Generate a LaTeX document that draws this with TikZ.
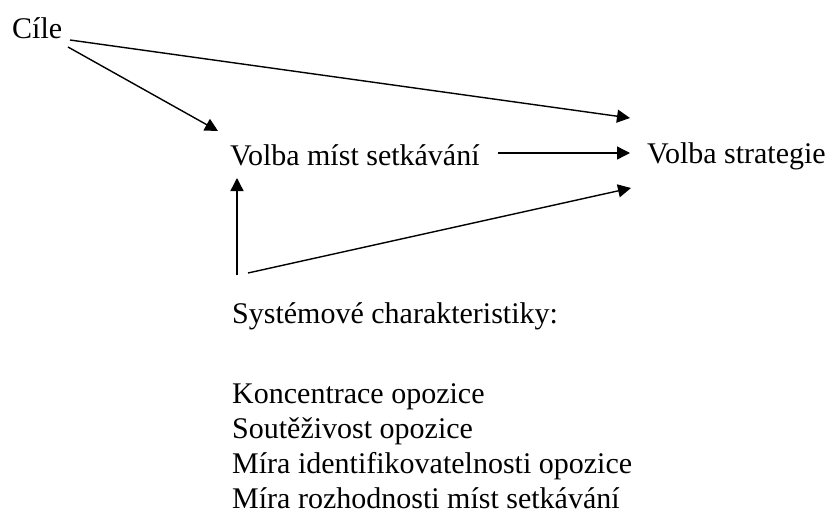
\documentclass[tikz,border=0pt]{standalone}
\usepackage{fontspec}
\setmainfont{Liberation Serif}
\usetikzlibrary{arrows.meta}
\begin{document}
\begin{tikzpicture}[x=1pt,y=-1pt,
  lbl/.style={anchor=base west,inner sep=0pt,font=\fontsize{30}{35}\selectfont},
  arr/.style={line width=1.4pt,-{Triangle[length=13pt,width=13pt]}}]
  \useasboundingbox (0,0) rectangle (830,519);
  % goals
  \node[lbl] (cile) at (12,39) {Cíle};
  % choices
  \node[lbl] (misto) at (230,165) {Volba míst setkávání};
  \node[lbl] (strategie) at (647,163) {Volba strategie};
  % system characteristics
  \node[lbl] (system) at (232,323) {Systémové charakteristiky:};
  \node[lbl] (k1) at (232,403) {Koncentrace opozice};
  \node[lbl] (k2) at (232,438) {Soutěživost opozice};
  \node[lbl] (k3) at (232,473) {Míra identifikovatelnosti opozice};
  \node[lbl] (k4) at (232,508) {Míra rozhodnosti míst setkávání};

  % arrow ends
  \coordinate (cileA) at (70,40);
  \coordinate (cileB) at (68,47);
  \coordinate (mistoIn) at (218,131);
  \coordinate (mistoOut) at (498,153);
  \coordinate (mistoDown) at (237,178);
  \coordinate (stratA) at (630,118);
  \coordinate (stratB) at (630,153);
  \coordinate (stratC) at (631,188);
  \coordinate (sysA) at (237,275);
  \coordinate (sysB) at (248,273);

  % from goals
  \draw[arr] (cileA) to (stratA);
  \draw[arr] (cileB) to (mistoIn);
  % between choices
  \draw[arr] (mistoOut) to (stratB);
  % from system characteristics
  \draw[arr] (sysA) to (mistoDown);
  \draw[arr] (sysB) to (stratC);
\end{tikzpicture}
\end{document}
